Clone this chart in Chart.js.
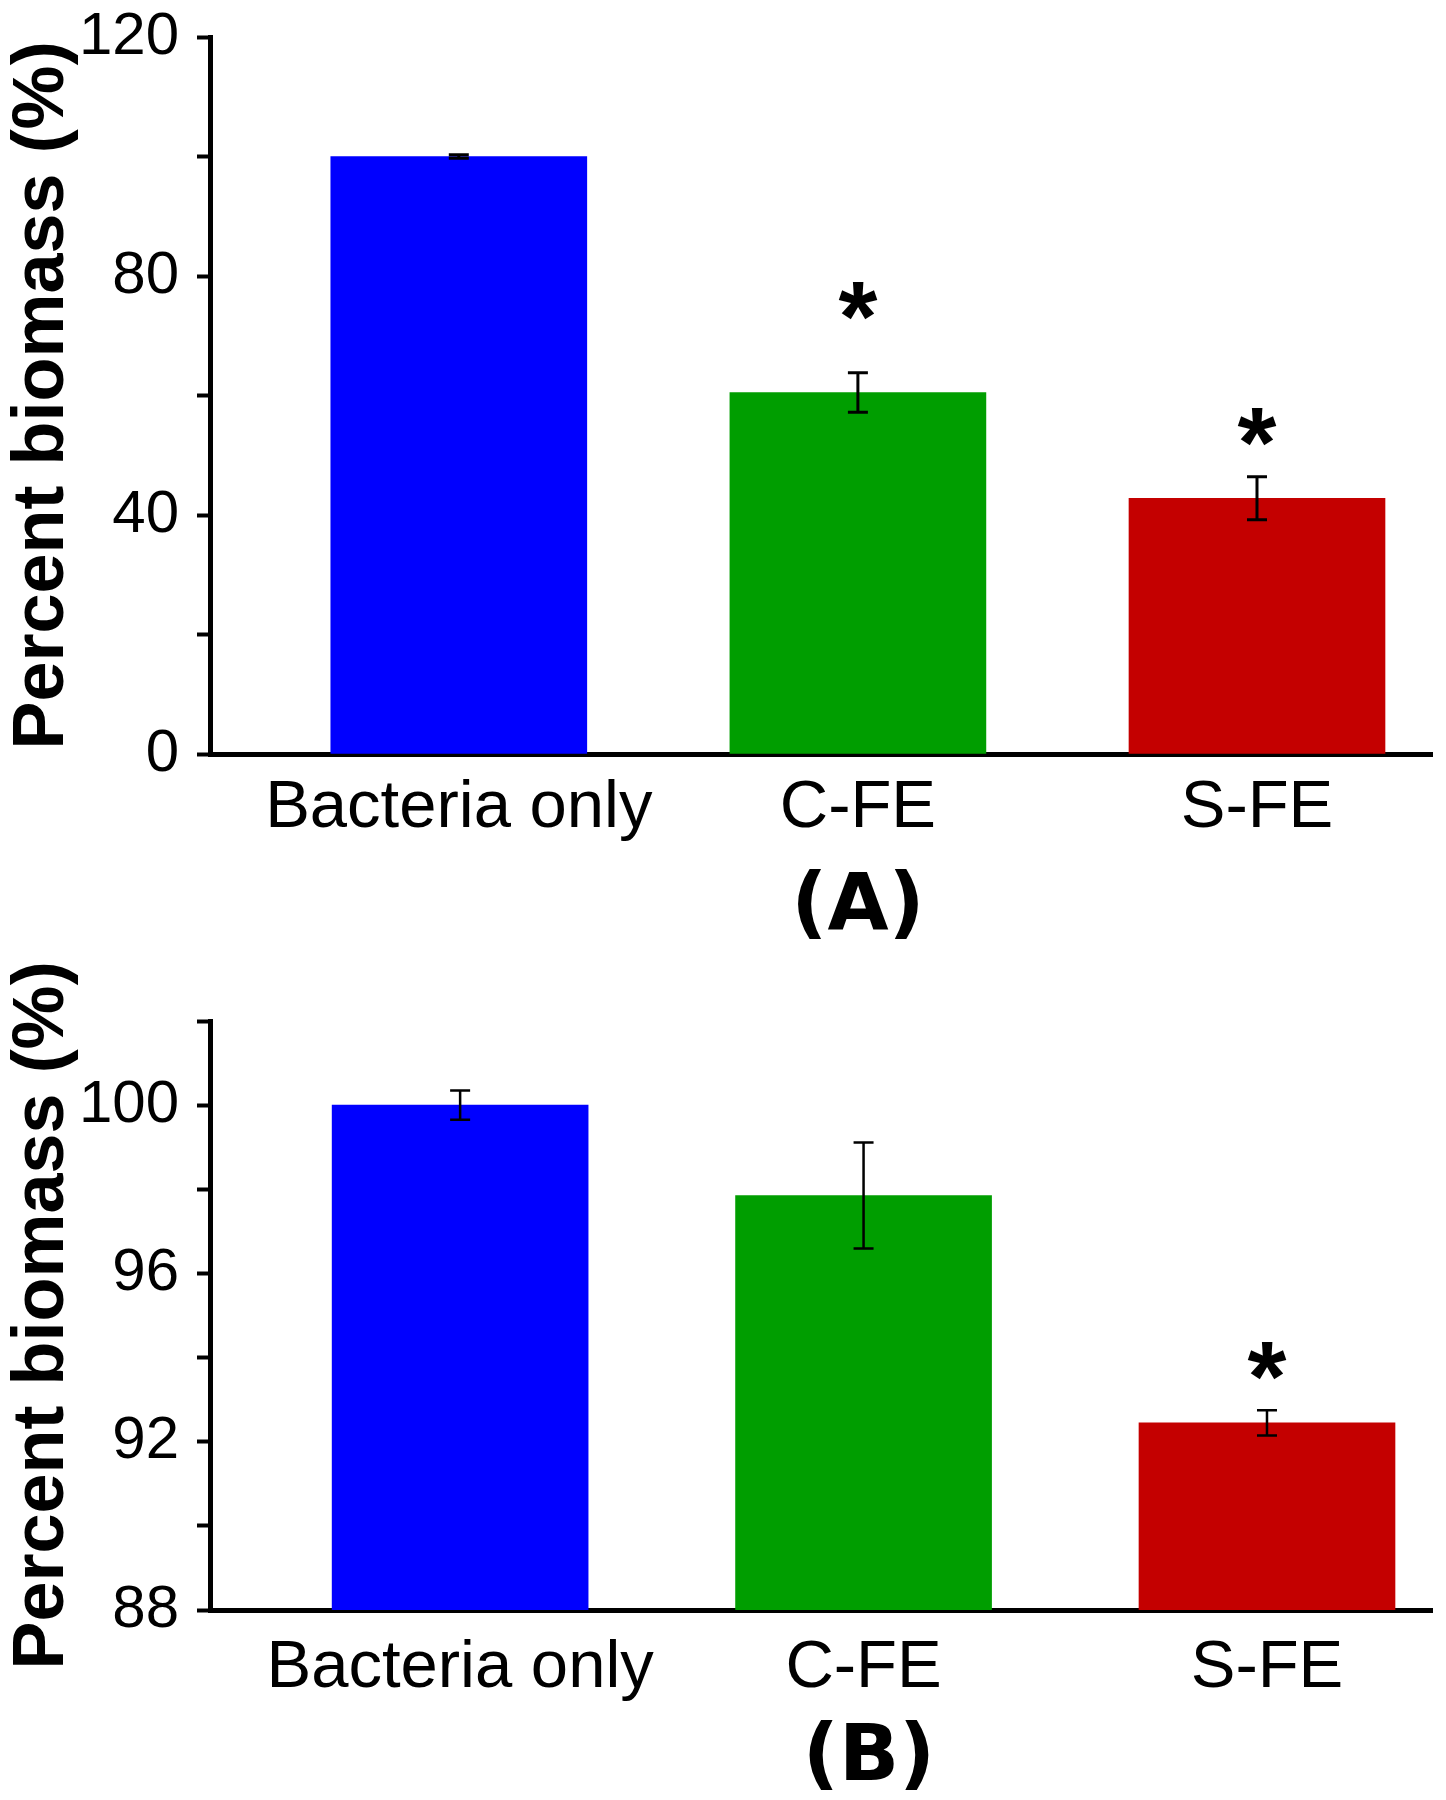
<!DOCTYPE html>
<html>
<head>
<meta charset="utf-8">
<script src="https://cdn.jsdelivr.net/npm/chart.js@4.4.0/dist/chart.umd.min.js"></script>
<style>
  html, body { margin: 0; padding: 0; background: #fff; }
  body { width: 1446px; height: 1800px; position: relative; overflow: hidden; }
  .panel { position: absolute; left: 0; width: 1446px; }
  .tag {
    position: absolute;
    font-family: 'DejaVu Sans', sans-serif;
    font-weight: bold;
    font-size: 79px;
    line-height: 1;
    transform: translate(-50%, -50%);
  }
</style>
</head>
<body>
<div class="panel" style="top:0;height:950px"><canvas id="chartA" width="1446" height="950"></canvas></div>
<div class="panel" style="top:950px;height:850px"><canvas id="chartB" width="1446" height="850"></canvas></div>
<div class="tag" style="left:858px;top:902px">(A)</div>
<div class="tag" style="left:869px;top:1753px">(B)</div>
<script>
const categories = ['Bacteria only', 'C-FE', 'S-FE'];
const barColors = ['#0000ff', '#009e00', '#c40000'];
const xPos = [1, 2, 3];

// panel A
const valuesA = [100, 60.5, 42.8];
const errorsA = [0.3, 3.3, 3.6];
const starsA = [null, 75.3, 54.2];
const yLabelsA = [0, 40, 80, 120];

// panel B
const valuesB = [100, 97.85, 92.45];
const errorsB = [0.35, 1.26, 0.3];
const starsB = [null, null, 93.85];
const yLabelsB = [88, 92, 96, 100];

Chart.defaults.color = '#000';
Chart.defaults.devicePixelRatio = 1;

function errorPlugin(values, errors, stars, lw) {
  return {
    id: 'errorBars',
    afterDatasetsDraw(chart) {
      const { ctx, scales: { x, y } } = chart;
      ctx.save();
      ctx.strokeStyle = '#000';
      ctx.fillStyle = '#000';
      ctx.lineWidth = lw;
      values.forEach((v, i) => {
        const px = x.getPixelForValue(xPos[i]);
        const top = y.getPixelForValue(v + errors[i]);
        const bot = y.getPixelForValue(v - errors[i]);
        ctx.beginPath();
        ctx.moveTo(px, top); ctx.lineTo(px, bot);
        ctx.moveTo(px - 10, top); ctx.lineTo(px + 10, top);
        ctx.moveTo(px - 10, bot); ctx.lineTo(px + 10, bot);
        ctx.stroke();
        if (stars[i] != null) {
          ctx.font = 'bold 100px "Liberation Sans", Arial, sans-serif';
          ctx.textAlign = 'center';
          ctx.textBaseline = 'alphabetic';
          ctx.fillText('*', px, y.getPixelForValue(stars[i]) + 47);
        }
      });
      ctx.restore();
    }
  };
}

function makeChart(id, values, errors, stars, yMin, yMax, step, yLabels, xMin, xMax, padTop, padBottom, labelPad, lw) {
  return new Chart(document.getElementById(id), {
    type: 'bar',
    data: {
      datasets: [{
        data: xPos.map((x, i) => ({ x: x, y: values[i] })),
        backgroundColor: barColors,
        borderWidth: 0,
        barThickness: 256
      }]
    },
    options: {
      responsive: false,
      animation: false,
      events: [],
      layout: { padding: { top: padTop, bottom: padBottom, left: 0, right: 14 } },
      plugins: { legend: { display: false }, tooltip: { enabled: false } },
      scales: {
        x: {
          type: 'linear',
          min: xMin,
          max: xMax,
          offset: false,
          afterBuildTicks: s => { s.ticks = xPos.map(v => ({ value: v })); },
          afterFit: s => { s.height = 120; },
          grid: { display: false },
          border: { display: true, color: '#000', width: 5 },
          ticks: {
            padding: labelPad,
            maxRotation: 0,
            autoSkip: false,
            font: { family: '"Liberation Sans", Arial, sans-serif', size: 67 },
            callback: v => categories[xPos.indexOf(v)]
          }
        },
        y: {
          min: yMin,
          max: yMax,
          afterFit: s => { s.width = 210; },
          grid: { drawOnChartArea: false, drawTicks: true, tickLength: 13, tickWidth: 4, color: '#000' },
          border: { display: true, color: '#000', width: 5 },
          ticks: {
            stepSize: step,
            padding: 18,
            font: { family: '"Liberation Sans", Arial, sans-serif', size: 60, lineHeight: 0.5 },
            callback: v => yLabels.includes(v) ? String(v) : ''
          },
          title: {
            display: true,
            text: 'Percent biomass (%)',
            padding: { top: 0, bottom: 0 },
            font: { family: '"Liberation Sans", Arial, sans-serif', size: 72, weight: 'bold' }
          }
        }
      }
    },
    plugins: [errorPlugin(values, errors, stars, lw)]
  });
}

makeChart('chartA', valuesA, errorsA, starsA, 0, 120, 20, yLabelsA, 0.3766, 3.4385, 37, 76, 6, 3);
makeChart('chartB', valuesB, errorsB, starsB, 88, 102, 2, yLabelsB, 0.38, 3.409, 71, 70, 10, 2.5);
</script>
</body>
</html>
